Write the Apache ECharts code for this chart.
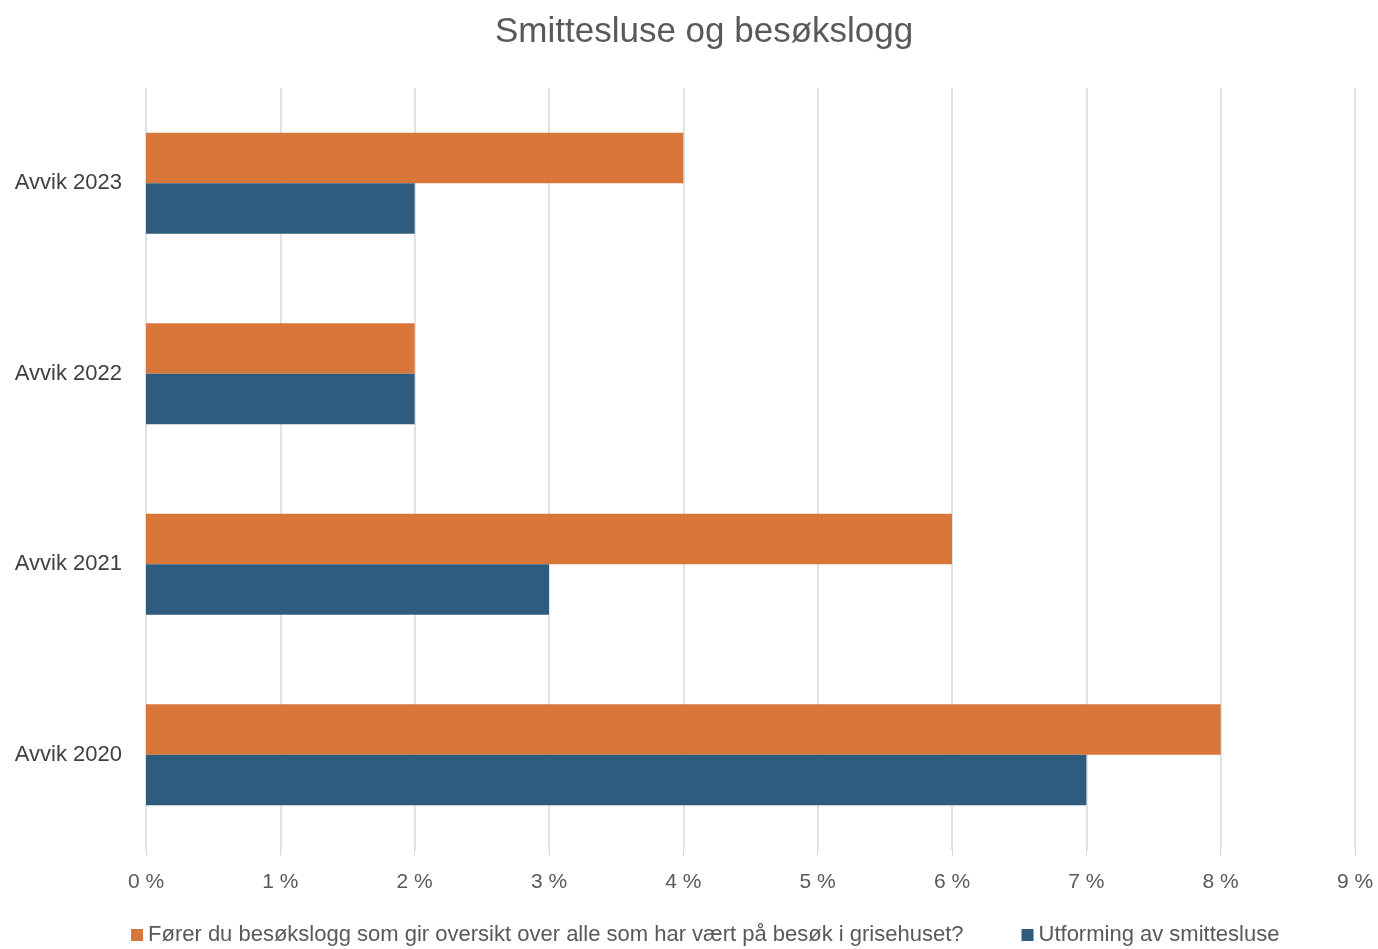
<!DOCTYPE html>
<html>
<head>
<meta charset="utf-8">
<script src="https://cdn.jsdelivr.net/npm/echarts@6/dist/echarts.min.js"></script>
<style>
  html, body { margin: 0; padding: 0; background: #fff; }
  #chart { width: 1378px; height: 949px; }
</style>
</head>
<body>
<div id="chart"></div>
<script>
const categories = ['Avvik 2020', 'Avvik 2021', 'Avvik 2022', 'Avvik 2023'];
const besokslogg = [8, 6, 2, 4];
const smittesluse = [7, 3, 2, 2];
const nameLogg = 'Fører du besøkslogg som gir oversikt over alle som har vært på besøk i grisehuset?';
const nameSluse = 'Utforming av smittesluse';

const font = '"Liberation Sans", Arial, sans-serif';

const chart = echarts.init(document.getElementById('chart'));

chart.setOption({
  backgroundColor: '#fff',
  animation: false,
  textStyle: { fontFamily: font },
  title: {
    text: 'Smittesluse og besøkslogg',
    left: 490,
    top: 10,
    textStyle: { fontFamily: font, fontSize: 35, fontWeight: 'normal', color: '#595959' }
  },
  legend: {
    top: 919,
    left: 126,
    itemWidth: 12,
    itemHeight: 12,
    itemGap: 58,
    icon: 'rect',
    textStyle: { fontFamily: font, fontSize: 22, color: '#595959' }
  },
  grid: { left: 146, right: 23, top: 88, bottom: 99, containLabel: false },
  xAxis: {
    type: 'value',
    min: 0,
    max: 9,
    interval: 1,
    axisLine: { show: false },
    axisTick: { show: true, length: 6, lineStyle: { color: '#d9d9d9' } },
    splitLine: { show: true, lineStyle: { color: '#d9d9d9', width: 1.5 } },
    axisLabel: { formatter: '{value} %', fontFamily: font, fontSize: 21, color: '#595959', margin: 22 }
  },
  yAxis: {
    type: 'category',
    data: categories,
    axisLine: { show: false },
    axisTick: { show: false },
    axisLabel: { fontFamily: font, fontSize: 22, color: '#404040', margin: 24 }
  },
  series: [
    {
      name: nameLogg,
      type: 'bar',
      data: besokslogg,
      barGap: '0%',
      barCategoryGap: '47%',
      itemStyle: { color: '#d9773b' }
    },
    {
      name: nameSluse,
      type: 'bar',
      data: smittesluse,
      barGap: '0%',
      barCategoryGap: '47%',
      itemStyle: { color: '#2e5c7e' }
    }
  ]
});
</script>
</body>
</html>
